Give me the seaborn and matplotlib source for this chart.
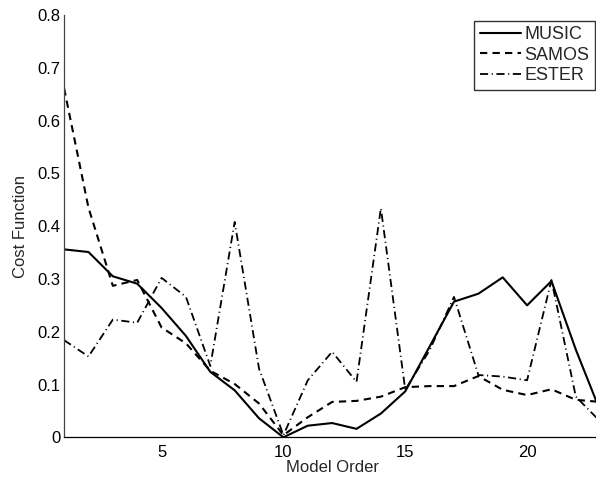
import numpy as np
import pandas as pd
import matplotlib
matplotlib.use("Agg")
import matplotlib.pyplot as plt
import seaborn as sns

model_order = list(range(1, 24))
music = [0.356, 0.351, 0.305, 0.291, 0.245, 0.192, 0.124, 0.089, 0.036, 0.0,
         0.022, 0.027, 0.016, 0.045, 0.087, 0.172, 0.257, 0.272, 0.303, 0.250,
         0.296, 0.166, 0.050]
samos = [0.661, 0.435, 0.287, 0.298, 0.208, 0.178, 0.126, 0.101, 0.064, 0.004,
         0.038, 0.067, 0.069, 0.077, 0.095, 0.097, 0.097, 0.116, 0.090, 0.080,
         0.091, 0.071, 0.067]
ester = [0.184, 0.153, 0.223, 0.217, 0.302, 0.266, 0.135, 0.408, 0.130, 0.004,
         0.108, 0.162, 0.105, 0.434, 0.090, 0.165, 0.266, 0.118, 0.115, 0.108,
         0.298, 0.077, 0.030]
methods = ["MUSIC", "SAMOS", "ESTER"]
y_ticks = [0, 0.1, 0.2, 0.3, 0.4, 0.5, 0.6, 0.7, 0.8]
y_tick_labels = ["0", "0.1", "0.2", "0.3", "0.4", "0.5", "0.6", "0.7", "0.8"]
x_ticks = [5, 10, 15, 20]

df = pd.DataFrame({
    "Model Order": model_order * 3,
    "Cost Function": music + samos + ester,
    "Method": sum([[m] * len(model_order) for m in methods], []),
})

sns.set_style("white")
plt.rcParams["font.family"] = ["Liberation Sans", "DejaVu Sans"]
plt.rcParams["font.size"] = 12

W, H = 596, 478
fig = plt.figure(figsize=(W / 100, H / 100), dpi=100)
left, right, bottom_px, top_px = 64.1, 600.2, 437.3, 15.0
ax = fig.add_axes([left / W, (H - bottom_px) / H, (right - left) / W, (bottom_px - top_px) / H])

sns.lineplot(
    data=df, x="Model Order", y="Cost Function", style="Method",
    hue="Method", palette={m: "black" for m in methods},
    dashes={"MUSIC": "", "SAMOS": (3.5, 2.5), "ESTER": (4.5, 2.0, 0.6, 2.0)},
    linewidth=1.5, ax=ax, legend=False,
)
ax.lines[2].set_linewidth(1.3)

ax.set_xlim(1, 23)
ax.set_ylim(0, 0.8)
ax.set_xticks(x_ticks)
ax.set_yticks(y_ticks)
ax.set_yticklabels(y_tick_labels)
ax.tick_params(direction="in", length=5, width=0.8, colors="#444444",
               labelcolor="black", labelsize=12)
ax.tick_params(axis="x", pad=5.5)
ax.tick_params(axis="y", pad=2.5)
for s in ["top", "right"]:
    ax.spines[s].set_visible(False)
ax.spines["left"].set_color("#444444")
ax.spines["bottom"].set_color("black")
ax.spines["left"].set_linewidth(0.9)
ax.spines["bottom"].set_linewidth(0.9)
ax.set_xlabel("Model Order", fontsize=12, labelpad=0)
ax.set_ylabel("Cost Function", fontsize=12, labelpad=7)

handles = [ax.lines[i] for i in range(3)]
leg = fig.legend(handles, methods, loc="upper right",
                 bbox_to_anchor=(594.5 / W, (H - 20.5) / H),
                 frameon=True, fancybox=False, edgecolor="black",
                 handlelength=2.3, handletextpad=0.15, borderpad=0.3,
                 labelspacing=0.2, borderaxespad=0, fontsize=13)
leg.get_frame().set_linewidth(1.0)

fig.savefig("out.png", dpi=100)
